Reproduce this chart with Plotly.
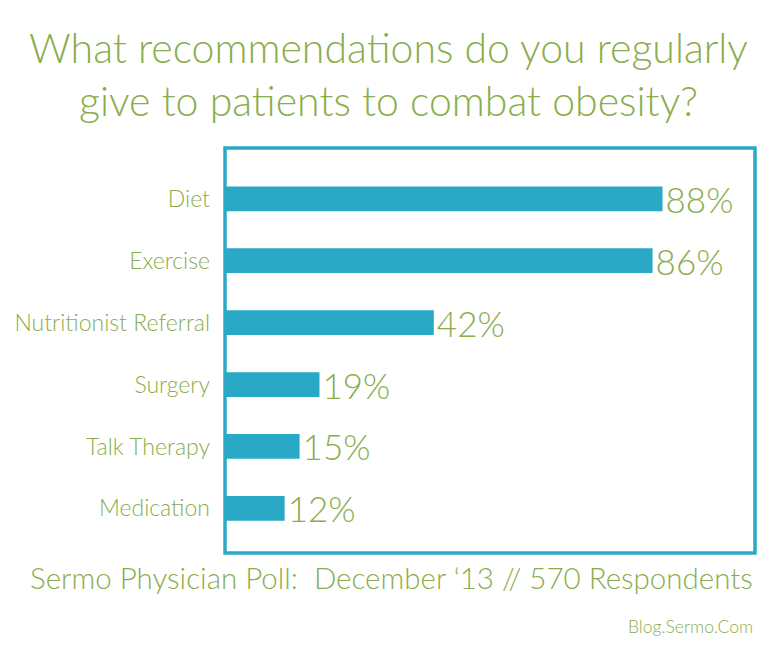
import plotly.graph_objects as go

categories = ["Diet", "Exercise", "Nutritionist Referral", "Surgery", "Talk Therapy", "Medication"]
values = [88, 86, 42, 19, 15, 12]
value_labels = ["88%", "86%", "42%", "19%", "15%", "12%"]

GREEN = "#8aad4c"
TEAL = "#2aa9c6"
FONT = "Lato"

positions = list(range(len(categories)))

fig = go.Figure(go.Bar(
    x=values, y=positions, orientation="h",
    marker=dict(color=TEAL, line=dict(width=0)),
    width=0.40,
    text=value_labels, textposition="outside", cliponaxis=False,
    constraintext="none",
    textfont=dict(family=FONT, size=35, color=GREEN, weight=300),
))

fig.update_layout(
    width=783, height=646,
    margin=dict(l=217, r=36, t=140, b=101, autoexpand=False),
    paper_bgcolor="white", plot_bgcolor="white",
    showlegend=False,
    xaxis=dict(range=[0, 106.6], showgrid=False, zeroline=False,
               showticklabels=False, ticks="", fixedrange=True),
    yaxis=dict(range=[5.72, -0.82], tickvals=positions, ticktext=categories,
               showgrid=False, zeroline=False, ticks="",
               ticklabelstandoff=14,
               tickfont=dict(family=FONT, size=23, color=GREEN, weight=300)),
)

fig.add_shape(type="rect", xref="paper", yref="paper", x0=0, x1=1, y0=0, y1=1,
              line=dict(color=TEAL, width=3.5), fillcolor="rgba(0,0,0,0)", layer="above")

title_lines = ["What recommendations do you regularly", "give to patients to combat obesity?"]
for line, yy in zip(title_lines, [1.247, 1.1185]):
    fig.add_annotation(text=line, xref="paper", yref="paper", x=0.309, y=yy,
                       xanchor="center", yanchor="middle", showarrow=False,
                       font=dict(family=FONT, size=41, color=GREEN, weight=300))

fig.add_annotation(
    text="Sermo Physician Poll:  December \u201813 // 570 Respondents",
    xref="paper", yref="paper", x=1.0, y=-0.0617, xanchor="right", yanchor="middle",
    showarrow=False, font=dict(family=FONT, size=29.5, color=GREEN, weight=300),
)
fig.add_annotation(
    text="Blog.Sermo.Com",
    xref="paper", yref="paper", x=1.0, y=-0.1827, xanchor="right", yanchor="middle",
    showarrow=False, font=dict(family=FONT, size=17.5, color=GREEN, weight=300),
)

fig.write_html("out.html")
